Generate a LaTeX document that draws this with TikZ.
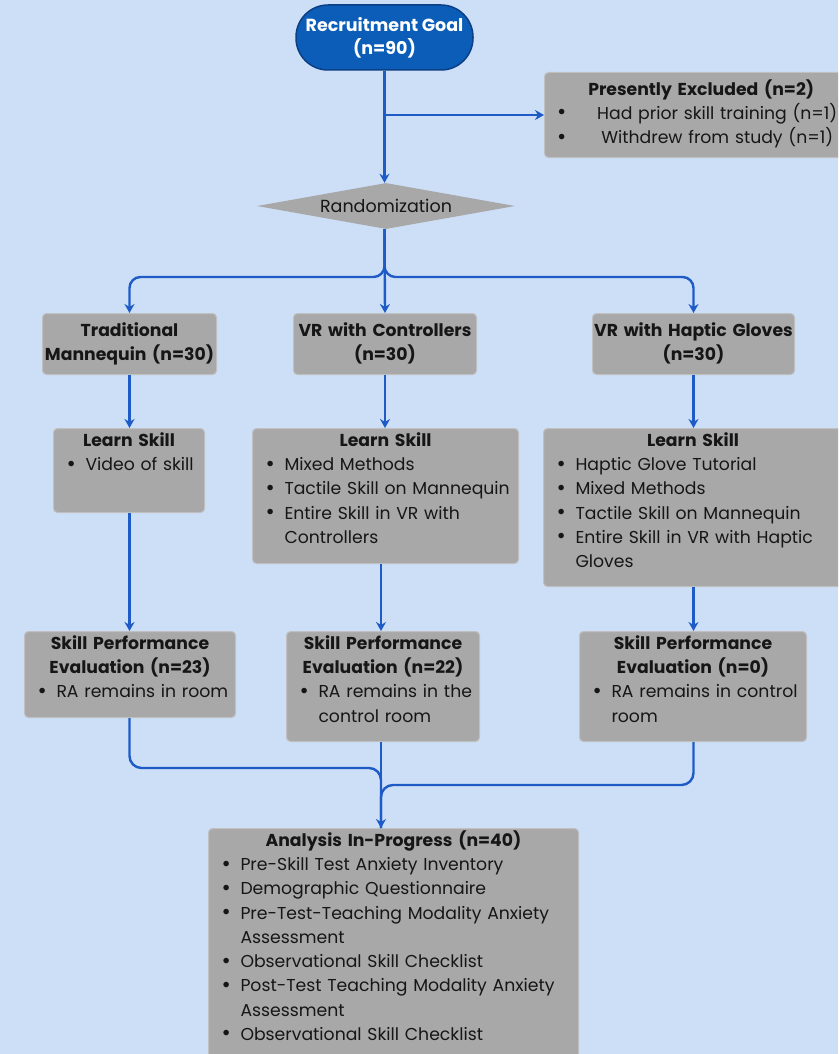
\documentclass[tikz,border=0pt]{standalone}
\usepackage{fontspec}
\usepackage{graphicx}
\setmainfont{Poppins}
\usetikzlibrary{arrows.meta,shapes.geometric}
\definecolor{bgc}{RGB}{204,223,247}
\definecolor{boxfill}{RGB}{168,168,168}
\definecolor{boxedge}{RGB}{192,192,192}
\definecolor{arrc}{RGB}{30,91,198}
\definecolor{goalfill}{RGB}{11,93,184}
\definecolor{goaledge}{RGB}{12,63,133}
\definecolor{txt}{RGB}{22,22,22}
\hfuzz=1000pt \hbadness=10000
\newcommand\fst{\rule{0pt}{13pt}}
\newcommand\bul{\raisebox{-0.3pt}{\scalebox{1.3}{\textbullet}}}
\newcommand\ttl[1]{\par\noindent\makebox[\linewidth][c]{\fst\bfseries #1}}
\newcommand\bl[1]{\par\noindent\makebox[19pt][l]{\bul}\mbox{#1}}
\newcommand\cl[1]{\par\noindent\hspace*{19pt}\mbox{#1}}
\begin{document}
\begin{tikzpicture}[x=1pt,y=-1pt,
  box/.style={draw=boxedge, fill=boxfill, line width=1pt, rounded corners=4pt, inner sep=0pt, anchor=north west},
  boxtext/.style={anchor=north, inner sep=0pt, text=txt, font=\fontsize{17.25}{24.25}\selectfont, align=left},
  arr/.style={draw=arrc, line width=2.4pt, -{Stealth[length=9pt,width=10pt]}},
  ln/.style={draw=arrc, line width=2.4pt}]
\useasboundingbox (0,0) rectangle (838,1054);
\fill[bgc] (0,0) rectangle (838,1054);
\clip (0,0) rectangle (838,1054);

% top
\node[fill=goalfill, draw=goaledge, line width=1.5pt, rounded corners=32pt, minimum width=177pt, minimum height=65pt, inner sep=0pt,
  text=white, align=center, font=\fontsize{17.5}{23}\selectfont\bfseries] (goal) at (384.5,37.5) {Recruitment Goal\\(n=90)};
\node[diamond, aspect=5.6, minimum width=258pt, minimum height=46pt, inner sep=0pt, fill=boxfill, text=txt,
  font=\fontsize{17.5}{20}\selectfont] (rand) at (386,206) {Randomization};

\node[box, minimum width=300pt, minimum height=85pt] (excl) at (544,72) {};
\node[boxtext, text width=288pt, anchor=north west] (exclt) at (557,71) {\ttl{Presently Excluded (n=2)}
  \par\noindent\makebox[32pt][l]{\bul}\makebox[256pt][c]{Had prior skill training (n=1)}
  \par\noindent\makebox[32pt][l]{\bul}\makebox[256pt][c]{Withdrew from study (n=1)}};

% row 1
\node[box, minimum width=174pt, minimum height=61pt] (trad) at (42,313) {};
\node[boxtext, text width=174pt] (tradt) at ([yshift=1pt]trad.north) {\ttl{Traditional}\ttl{Mannequin (n=30)}};
\node[box, minimum width=183pt, minimum height=61pt] (vrc) at (293,313) {};
\node[boxtext, text width=183pt] (vrct) at ([yshift=1pt]vrc.north) {\ttl{VR with Controllers}\ttl{(n=30)}};
\node[box, minimum width=202pt, minimum height=61pt] (vrh) at (592,313) {};
\node[boxtext, text width=202pt] (vrht) at ([yshift=1pt]vrh.north) {\ttl{VR with Haptic Gloves}\ttl{(n=30)}};

% row 2
\node[box, minimum width=151pt, minimum height=84pt] (ls1) at (53,428) {};
\node[boxtext, text width=125pt] (ls1t) at ([yshift=6pt]ls1.north) {\ttl{Learn Skill}\bl{Video of skill}};
\node[box, minimum width=266pt, minimum height=135pt] (ls2) at (252,428) {};
\node[boxtext, text width=240pt] (ls2t) at ([yshift=6pt]ls2.north) {\ttl{Learn Skill}
  \bl{Mixed Methods}\bl{Tactile Skill on Mannequin}\bl{Entire Skill in VR with}\cl{Controllers}};
\node[box, minimum width=299pt, minimum height=158pt] (ls3) at (543,428) {};
\node[boxtext, text width=273pt] (ls3t) at ([yshift=6pt]ls3.north) {\ttl{Learn Skill}
  \bl{Haptic Glove Tutorial}\bl{Mixed Methods}\bl{Tactile Skill on Mannequin}\bl{Entire Skill in VR with Haptic}\cl{Gloves}};

% row 3
\node[box, minimum width=211pt, minimum height=86pt] (ev1) at (24,631) {};
\node[boxtext, text width=185pt] (ev1t) at ([yshift=6pt]ev1.north) {\ttl{Skill Performance}\ttl{Evaluation (n=23)}
  \bl{RA remains in room}};
\node[box, minimum width=193pt, minimum height=110pt] (ev2) at (286,631) {};
\node[boxtext, text width=167pt] (ev2t) at ([yshift=6pt]ev2.north) {\ttl{Skill Performance}\ttl{Evaluation (n=22)}
  \bl{RA remains in the}\cl{control room}};
\node[box, minimum width=227pt, minimum height=110pt] (ev3) at (579,631) {};
\node[boxtext, text width=201pt] (ev3t) at ([yshift=6pt]ev3.north) {\ttl{Skill Performance}\ttl{Evaluation (n=0)}
  \bl{RA remains in control}\cl{room}};

% analysis
\node[box, minimum width=370pt, minimum height=240pt] (ana) at (208,828) {};
\node[boxtext, text width=344pt] (anat) at ([yshift=6pt]ana.north) {\ttl{Analysis In-Progress (n=40)}
  \bl{Pre-Skill Test Anxiety Inventory}\bl{Demographic Questionnaire}\bl{Pre-Test-Teaching Modality Anxiety}\cl{Assessment}
  \bl{Observational Skill Checklist}\bl{Post-Test Teaching Modality Anxiety}\cl{Assessment}\bl{Observational Skill Checklist}};

% connectors
\draw[arr] (goal.south) -- (goal.south |- rand.north);
\coordinate (br) at (384.5,115);
\draw[arr] (br) -- (excl.west |- br);
\coordinate (split) at (384.5,277);
\draw[arr, rounded corners=11pt] (goal.south |- rand.south) -- (split) -| (trad.north);
\draw[arr, rounded corners=11pt] (goal.south |- rand.south) -- (split) -| (vrh.north);
\draw[arr] (goal.south |- rand.south) -- (vrc.north);
\draw[arr] (trad.south) -- (trad.south |- ls1.north);
\draw[arr] (vrc.south) -- (vrc.south |- ls2.north);
\draw[arr] (vrh.south) -- (vrh.south |- ls3.north);
\coordinate (c2) at (381,0);
\draw[arr] (trad.south |- ls1.south) -- (trad.south |- ev1.north);
\draw[arr] (c2 |- ls2.south) -- (c2 |- ev2.north);
\draw[arr] (vrh.south |- ls3.south) -- (vrh.south |- ev3.north);
\coordinate (j1) at (381,768);
\coordinate (j2) at (381,785);
\draw[ln, rounded corners=12pt] (trad.south |- ev1.south) -- (trad.south |- j1) -- (j1) -- (c2 |- ana.north);
\draw[ln, rounded corners=12pt] (vrh.south |- ev3.south) -- (vrh.south |- j2) -- (j2) -- (c2 |- ana.north);
\draw[arr] (c2 |- ev2.south) -- (c2 |- ana.north);
\end{tikzpicture}
\end{document}
